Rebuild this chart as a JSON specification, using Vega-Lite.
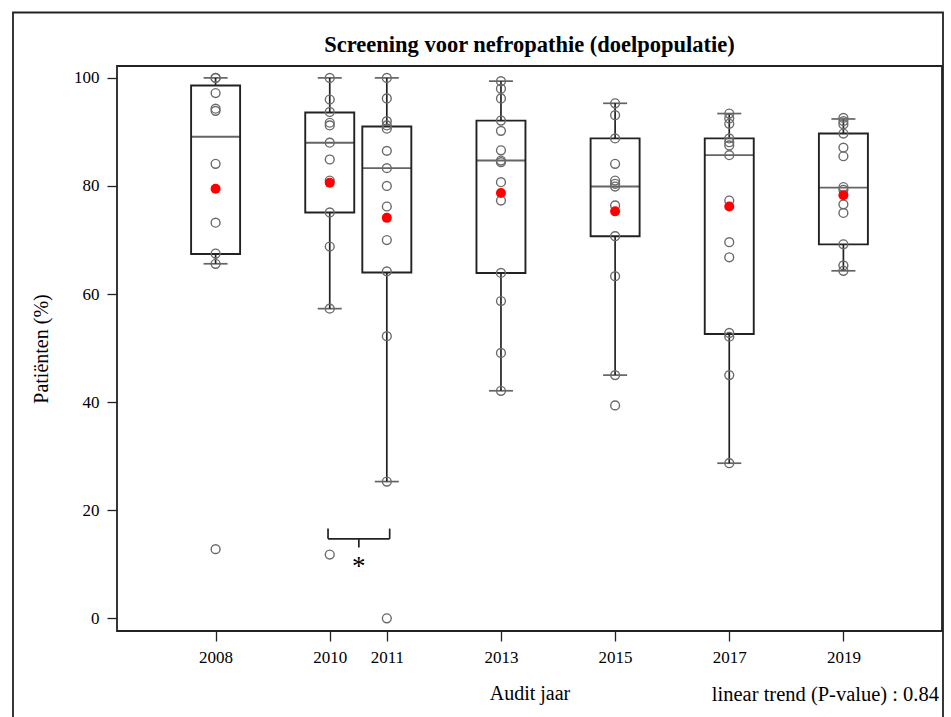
{
  "$schema": "https://vega.github.io/schema/vega-lite/v6.json",
  "width": 825,
  "height": 565,
  "autosize": {"type": "none"},
  "padding": {"left": 117, "top": 66, "right": 9, "bottom": 86},
  "background": "white",
  "config": {
    "view": {"stroke": "#222", "strokeWidth": 1.8},
    "font": "Liberation Serif",
    "axis": {"labelFont": "Liberation Serif", "titleFont": "Liberation Serif", "labelColor": "#000", "titleColor": "#000", "tickColor": "#222", "grid": false, "domain": false, "titleFontWeight": "normal"}
  },
  "title": {"text": "Screening voor nefropathie (doelpopulatie)", "font": "Liberation Serif", "fontSize": 22.5, "fontWeight": "bold", "anchor": "middle", "frame": "group", "offset": -45, "color": "#000"},
  "datasets": {
    "stats": [
      {"year": 2008, "lo": 65.6, "q1": 67.4, "med": 89.1, "q3": 98.6, "hi": 100, "mean": 79.5},
      {"year": 2010, "lo": 57.3, "q1": 75.1, "med": 88.0, "q3": 93.6, "hi": 100, "mean": 80.6},
      {"year": 2011, "lo": 25.3, "q1": 64.0, "med": 83.3, "q3": 91.0, "hi": 100, "mean": 74.1},
      {"year": 2013, "lo": 42.1, "q1": 63.9, "med": 84.7, "q3": 92.1, "hi": 99.4, "mean": 78.7},
      {"year": 2015, "lo": 45.0, "q1": 70.7, "med": 79.9, "q3": 88.8, "hi": 95.3, "mean": 75.3},
      {"year": 2017, "lo": 28.7, "q1": 52.6, "med": 85.7, "q3": 88.8, "hi": 93.4, "mean": 76.2},
      {"year": 2019, "lo": 64.3, "q1": 69.2, "med": 79.7, "q3": 89.7, "hi": 92.4, "mean": 78.3}
    ],
    "pts": [
      {"year": 2008, "pct": 100}, {"year": 2008, "pct": 100}, {"year": 2008, "pct": 97.2}, {"year": 2008, "pct": 94.3}, {"year": 2008, "pct": 93.9}, {"year": 2008, "pct": 84.1}, {"year": 2008, "pct": 73.2}, {"year": 2008, "pct": 67.5}, {"year": 2008, "pct": 65.6}, {"year": 2008, "pct": 12.8},
      {"year": 2010, "pct": 100}, {"year": 2010, "pct": 96.0}, {"year": 2010, "pct": 93.7}, {"year": 2010, "pct": 91.7}, {"year": 2010, "pct": 91.2}, {"year": 2010, "pct": 88.0}, {"year": 2010, "pct": 84.9}, {"year": 2010, "pct": 81.0}, {"year": 2010, "pct": 75.1}, {"year": 2010, "pct": 68.8}, {"year": 2010, "pct": 57.3}, {"year": 2010, "pct": 11.8},
      {"year": 2011, "pct": 100}, {"year": 2011, "pct": 96.2}, {"year": 2011, "pct": 92.0}, {"year": 2011, "pct": 91.2}, {"year": 2011, "pct": 90.6}, {"year": 2011, "pct": 86.5}, {"year": 2011, "pct": 83.3}, {"year": 2011, "pct": 80.0}, {"year": 2011, "pct": 76.2}, {"year": 2011, "pct": 70.0}, {"year": 2011, "pct": 64.2}, {"year": 2011, "pct": 52.2}, {"year": 2011, "pct": 25.3}, {"year": 2011, "pct": 0},
      {"year": 2013, "pct": 99.4}, {"year": 2013, "pct": 98.0}, {"year": 2013, "pct": 96.2}, {"year": 2013, "pct": 92.1}, {"year": 2013, "pct": 90.2}, {"year": 2013, "pct": 86.6}, {"year": 2013, "pct": 84.7}, {"year": 2013, "pct": 84.4}, {"year": 2013, "pct": 80.7}, {"year": 2013, "pct": 77.3}, {"year": 2013, "pct": 63.9}, {"year": 2013, "pct": 58.7}, {"year": 2013, "pct": 49.1}, {"year": 2013, "pct": 42.1},
      {"year": 2015, "pct": 95.3}, {"year": 2015, "pct": 93.1}, {"year": 2015, "pct": 88.8}, {"year": 2015, "pct": 84.1}, {"year": 2015, "pct": 81.0}, {"year": 2015, "pct": 80.4}, {"year": 2015, "pct": 79.9}, {"year": 2015, "pct": 76.4}, {"year": 2015, "pct": 70.7}, {"year": 2015, "pct": 63.3}, {"year": 2015, "pct": 45.0}, {"year": 2015, "pct": 39.4},
      {"year": 2017, "pct": 93.4}, {"year": 2017, "pct": 92.5}, {"year": 2017, "pct": 91.5}, {"year": 2017, "pct": 88.8}, {"year": 2017, "pct": 88.1}, {"year": 2017, "pct": 87.5}, {"year": 2017, "pct": 85.7}, {"year": 2017, "pct": 77.3}, {"year": 2017, "pct": 69.6}, {"year": 2017, "pct": 66.8}, {"year": 2017, "pct": 52.8}, {"year": 2017, "pct": 52.1}, {"year": 2017, "pct": 45.0}, {"year": 2017, "pct": 28.7},
      {"year": 2019, "pct": 92.6}, {"year": 2019, "pct": 92.0}, {"year": 2019, "pct": 91.4}, {"year": 2019, "pct": 89.7}, {"year": 2019, "pct": 87.1}, {"year": 2019, "pct": 85.5}, {"year": 2019, "pct": 79.8}, {"year": 2019, "pct": 79.3}, {"year": 2019, "pct": 76.6}, {"year": 2019, "pct": 75.0}, {"year": 2019, "pct": 69.2}, {"year": 2019, "pct": 65.3}, {"year": 2019, "pct": 64.3}
    ],
    "bracket": [
      {"a": 2009.97, "b": 2011.05, "y1": 14.7, "y2": 14.7},
      {"a": 2009.97, "b": 2009.97, "y1": 14.7, "y2": 16.6},
      {"a": 2011.05, "b": 2011.05, "y1": 14.7, "y2": 16.6},
      {"a": 2010.51, "b": 2010.51, "y1": 14.7, "y2": 13.1}
    ],
    "notes": [{"label": "linear trend (P-value) : 0.84"}],
    "sig": [{"label": "*"}],
    "frame": [{"label": "frame"}]
  },
  "encoding": {
    "x": {"type": "quantitative",
      "scale": {"domain": [2006.36, 2020.64], "nice": false, "zero": false},
      "axis": {"values": [2008, 2010, 2011, 2013, 2015, 2017, 2019], "format": "d", "title": "Audit jaar", "labelFontSize": 17, "titleFontSize": 20, "tickSize": 10, "labelPadding": 8, "titlePadding": 18, "tickWidth": 1.3}},
    "y": {"type": "quantitative",
      "scale": {"domain": [-2.35, 102.2], "nice": false, "zero": false},
      "axis": {"values": [0, 20, 40, 60, 80, 100], "title": "Patiënten (%)", "labelFontSize": 17, "titleFontSize": 20, "tickSize": 10, "labelPadding": 8, "titlePadding": 22, "tickWidth": 1.3}}
  },
  "layer": [
    {"data": {"name": "frame"}, "mark": {"type": "rect", "fill": "transparent", "stroke": "#222", "strokeWidth": 1.8, "clip": false},
      "encoding": {"x": {"datum": 2004.45}, "x2": {"datum": 2020.745}, "y": {"datum": 112.1}, "y2": {"datum": -25}}},
    {"data": {"name": "stats"}, "mark": {"type": "rule", "color": "#222", "strokeWidth": 1.7},
      "encoding": {"x": {"field": "year"}, "y": {"field": "lo"}, "y2": {"field": "hi"}}},
    {"data": {"name": "stats"}, "mark": {"type": "bar", "size": 49, "fill": "white", "stroke": "#222", "strokeWidth": 1.9},
      "encoding": {"x": {"field": "year"}, "y": {"field": "q1"}, "y2": {"field": "q3"}}},
    {"data": {"name": "stats"}, "mark": {"type": "tick", "orient": "horizontal", "size": 49, "thickness": 1.9, "color": "#222"},
      "encoding": {"x": {"field": "year"}, "y": {"field": "med"}}},
    {"data": {"name": "stats"}, "mark": {"type": "tick", "orient": "horizontal", "size": 24, "thickness": 1.7, "color": "#222"},
      "encoding": {"x": {"field": "year"}, "y": {"field": "lo"}}},
    {"data": {"name": "stats"}, "mark": {"type": "tick", "orient": "horizontal", "size": 24, "thickness": 1.7, "color": "#222"},
      "encoding": {"x": {"field": "year"}, "y": {"field": "hi"}}},
    {"data": {"name": "pts"}, "mark": {"type": "point", "shape": "circle", "filled": false, "size": 78, "stroke": "#6a6a6a", "strokeWidth": 1.4, "opacity": 1},
      "encoding": {"x": {"field": "year"}, "y": {"field": "pct"}}},
    {"data": {"name": "stats"}, "mark": {"type": "point", "shape": "circle", "filled": true, "size": 100, "color": "#ff0000", "opacity": 1},
      "encoding": {"x": {"field": "year"}, "y": {"field": "mean"}}},
    {"data": {"name": "bracket"}, "mark": {"type": "rule", "color": "#222", "strokeWidth": 1.7},
      "encoding": {"x": {"field": "a"}, "x2": {"field": "b"}, "y": {"field": "y1"}, "y2": {"field": "y2"}}},
    {"data": {"name": "sig"}, "mark": {"type": "text", "fontSize": 27, "font": "Liberation Serif", "baseline": "middle", "align": "center", "dy": 5, "color": "#000"},
      "encoding": {"x": {"datum": 2010.51}, "y": {"datum": 10.5}, "text": {"field": "label"}}},
    {"data": {"name": "notes"}, "mark": {"type": "text", "fontSize": 20.5, "font": "Liberation Serif", "baseline": "middle", "align": "right", "dx": 2, "color": "#000"},
      "encoding": {"x": {"datum": 2020.64}, "y": {"datum": -14.2}, "text": {"field": "label"}}}
  ]
}
